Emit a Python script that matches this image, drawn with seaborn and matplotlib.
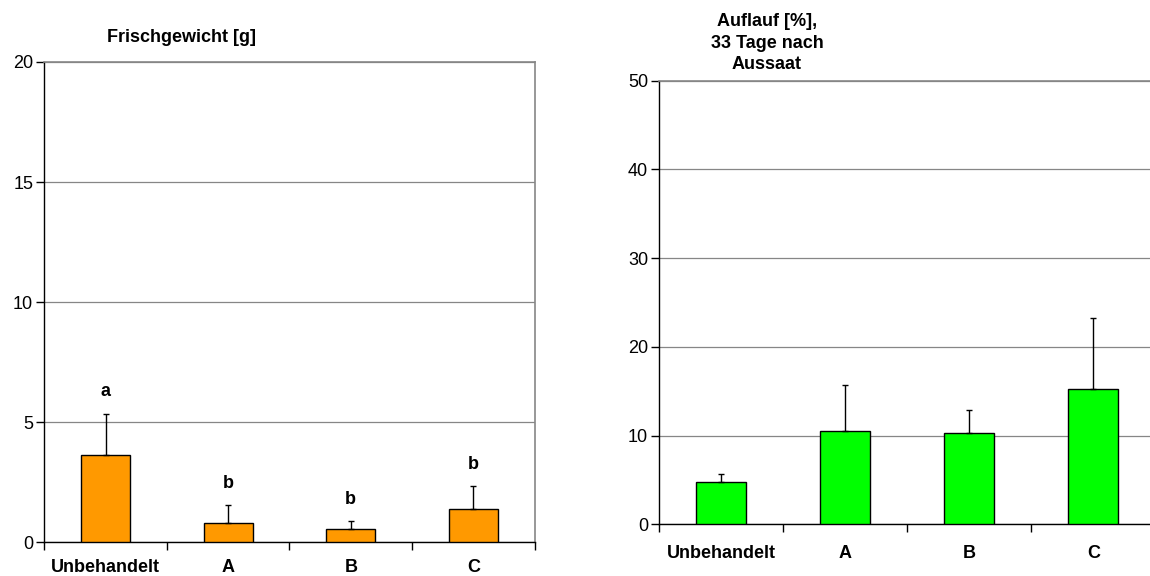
import matplotlib
matplotlib.use("Agg")
import matplotlib.pyplot as plt
import seaborn as sns
import pandas as pd
import numpy as np

# Treatments shown on both panels
categories = ["Unbehandelt", "A", "B", "C"]

# Fresh weight [g]: means, standard deviations and significance letters
weight_mean = [3.64, 0.82, 0.55, 1.38]
weight_sd = [1.72, 0.72, 0.32, 0.98]
weight_letters = ["a", "b", "b", "b"]

# Emergence [%] 33 days after sowing: means and standard deviations
emergence_mean = [4.73, 10.48, 10.26, 15.2]
emergence_sd = [0.98, 5.22, 2.63, 8.1]

weight_ticks = [0, 5, 10, 15, 20]
emergence_ticks = [0, 10, 20, 30, 40, 50]

sns.set_style("white")
plt.rcParams["font.family"] = ["Liberation Sans", "DejaVu Sans"]
plt.rcParams["font.size"] = 13
plt.rcParams["text.color"] = "black"
plt.rcParams["xtick.color"] = "black"
plt.rcParams["ytick.color"] = "black"
plt.rcParams["xtick.labelcolor"] = "black"
plt.rcParams["ytick.labelcolor"] = "black"

GRID = "#868686"


def bar_panel(ax, means, sds, color, ticks, title, title_x, title_y, label_pad):
    df = pd.DataFrame({"Behandlung": categories, "Wert": means})
    sns.barplot(data=df, x="Behandlung", y="Wert", color=color, saturation=1,
                width=0.4, edgecolor="black", linewidth=1.0, errorbar=None,
                ax=ax, zorder=3)
    # one-sided (upward) error bars
    ax.errorbar(np.arange(len(means)), means,
                yerr=[np.zeros(len(sds)), sds], fmt="none", ecolor="black",
                elinewidth=1.0, capsize=2.0, capthick=1.0, zorder=4)

    ax.set_xlim(-0.5, len(categories) - 0.5)
    ax.set_ylim(ticks[0], ticks[-1])
    ax.set_yticks(ticks)
    ax.set_yticklabels([str(t) for t in ticks])
    ax.set_xlabel("")
    ax.set_ylabel("")

    # tick marks between categories, labels centred under the bars
    ax.set_xticks(np.arange(len(categories) + 1) - 0.5)
    ax.set_xticklabels([])
    ax.set_xticks(np.arange(len(categories)), minor=True)
    ax.set_xticklabels(categories, minor=True, fontweight="bold")
    ax.tick_params(axis="x", which="major", length=6, width=1, color="black",
                   direction="out", bottom=True)
    ax.tick_params(axis="x", which="minor", length=0, pad=label_pad)
    ax.tick_params(axis="y", length=6, width=1, color="black", direction="out",
                   left=True, pad=2)

    ax.yaxis.grid(True, color=GRID, linewidth=0.9)
    ax.xaxis.grid(False)
    ax.set_axisbelow(True)

    for side in ("left", "bottom"):
        ax.spines[side].set_color("black")
        ax.spines[side].set_linewidth(1.0)
    for side in ("top", "right"):
        ax.spines[side].set_visible(True)
        ax.spines[side].set_color(GRID)
        ax.spines[side].set_linewidth(1.2)

    ax.text(title_x, title_y, title, transform=ax.transAxes, ha="center",
            va="center", fontweight="bold", linespacing=1.35)


fig = plt.figure(figsize=(11.5, 5.76), dpi=100)

ax1 = fig.add_axes([0.0385, 0.0585, 0.4264, 0.8339])
bar_panel(ax1, weight_mean, weight_sd, "#FF9900", weight_ticks,
          "Frischgewicht [g]", 0.279, 1.05, 12)
for i, (m, s, letter) in enumerate(zip(weight_mean, weight_sd, weight_letters)):
    ax1.text(i, m + s + 0.9, letter, ha="center", va="center",
             fontweight="bold")

# right panel runs past the right edge of the figure
ax2 = fig.add_axes([0.5733, 0.0898, 0.4313, 0.7701])
bar_panel(ax2, emergence_mean, emergence_sd, "#00FF00", emergence_ticks,
          "Auflauf [%],\n33 Tage nach\nAussaat", 0.217, 1.084, 15)

fig.savefig("out.png", dpi=100)
